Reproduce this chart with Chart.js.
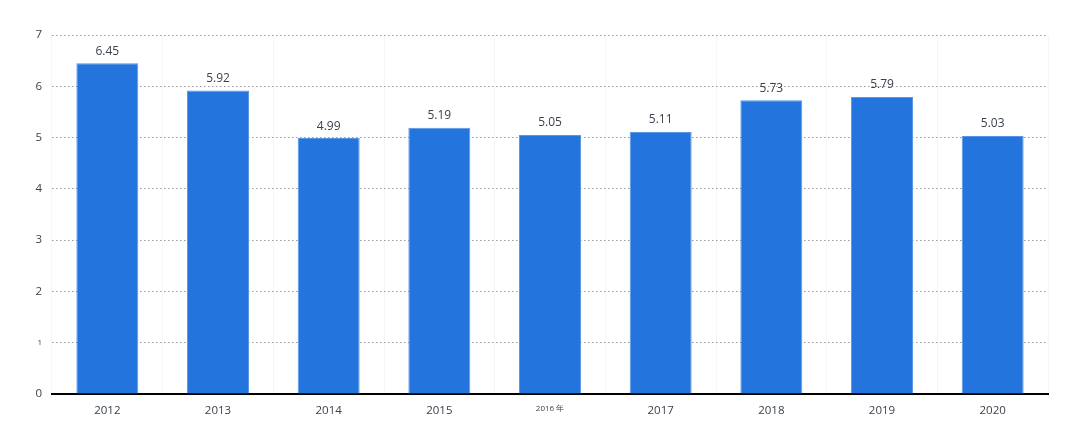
<!DOCTYPE html>
<html>
<head>
<meta charset="utf-8">
<script src="https://cdn.jsdelivr.net/npm/chart.js@4/dist/chart.umd.min.js"></script>
<style>
  html, body { margin: 0; padding: 0; background: #fff; }
  #wrap { width: 1080px; height: 448px; }
</style>
</head>
<body>
<div id="wrap"><canvas id="barChart" width="1080" height="448"></canvas></div>
<script>
// Data
const years = ["2012", "2013", "2014", "2015", "2016 年", "2017", "2018", "2019", "2020"];
const values = [6.45, 5.92, 4.99, 5.19, 5.05, 5.11, 5.73, 5.79, 5.03];
const yTicks = [0, 1, 2, 3, 4, 5, 6, 7];

// Label angka di atas batang
const valueLabels = {
  id: "valueLabels",
  afterDatasetsDraw(chart) {
    const ctx = chart.ctx;
    const meta = chart.getDatasetMeta(0);
    ctx.save();
    ctx.font = "12px 'Open Sans', sans-serif";
    ctx.fillStyle = "#3b414c";
    ctx.textAlign = "center";
    ctx.textBaseline = "bottom";
    meta.data.forEach((bar, i) => {
      ctx.fillText(values[i].toFixed(2), bar.x, bar.y - 6);
    });
    ctx.restore();
  },
};

const ctx = document.getElementById("barChart").getContext("2d");
new Chart(ctx, {
  type: "bar",
  data: {
    labels: years,
    datasets: [
      {
        data: values,
        backgroundColor: "#2374dd",
        borderColor: "#5a96e6",
        borderWidth: 1,
        categoryPercentage: 1,
        barPercentage: 0.56,
      },
    ],
  },
  options: {
    responsive: false,
    animation: false,
    layout: { padding: { left: 0, right: 32, top: 35, bottom: 22 } },
    plugins: {
      legend: { display: false },
      tooltip: { enabled: false },
    },
    scales: {
      x: {
        afterFit: (s) => { s.height = 32; },
        grid: { display: true, color: "#f5f5f5", drawTicks: false, offset: true },
        border: { display: true, color: "#000", width: 2 },
        ticks: {
          padding: 10,
          color: "#3b414c",
          font: (c) => ({
            family: "'Open Sans', sans-serif",
            size: c.index === 4 ? 8 : 11.5,
          }),
        },
      },
      y: {
        min: 0,
        max: 7,
        afterFit: (s) => { s.width = 52; },
        afterBuildTicks: (s) => { s.ticks = yTicks.map((v) => ({ value: v })); },
        grid: {
          color: (c) => (c.tick && c.tick.value === 0 ? "rgba(0,0,0,0)" : "#9a9a9a"),
          drawTicks: false,
        },
        border: { display: false, dash: [1.5, 2.5] },
        ticks: {
          padding: 10,
          color: "#3b414c",
          font: (c) => ({
            family: "'Open Sans', sans-serif",
            size: c.tick && c.tick.value === 1 ? 8 : 11.5,
          }),
        },
      },
    },
  },
  plugins: [valueLabels],
});
</script>
</body>
</html>
